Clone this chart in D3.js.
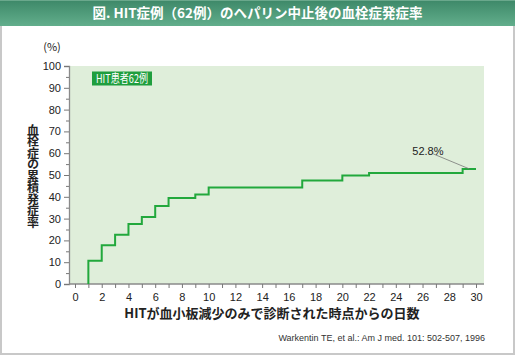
<!DOCTYPE html>
<html><head><meta charset="utf-8">
<script src="https://cdn.jsdelivr.net/npm/d3@7"></script>
<style>body{margin:0;background:#fff;}svg{display:block;}</style>
</head><body>
<script>
const title = "図. HIT症例（62例）のヘパリン中止後の血栓症発症率";
const stepDays = [1, 2, 3, 4, 5, 6, 7, 9, 10, 17, 20, 22, 29];
const cumRate = [10.7, 17.8, 22.6, 27.5, 30.7, 35.8, 39.4, 41.1, 44.3, 47.5, 49.8, 50.9, 52.8];
const endDay = 30;
const xTicks = [0,2,4,6,8,10,12,14,16,18,20,22,24,26,28,30];
const yTicks = [0,10,20,30,40,50,60,70,80,90,100];
const legendLabel = "HIT患者62例";
const annotation = "52.8%";
const yTitle = "血栓症の累積発症率";
const xTitle = "HITが血小板減少のみで診断された時点からの日数";
const unitLabel = "(%)";
const citation = "Warkentin TE, et al.: Am J med. 101: 502-507, 1996";

const W = 515, H = 355;
const font = "'Liberation Sans','Noto Sans CJK JP',sans-serif";
const jfont = "'Noto Sans CJK JP',sans-serif";
const svg = d3.select("body").append("svg").attr("width", W).attr("height", H);

const defs = svg.append("defs");
const g = defs.append("linearGradient").attr("id","tg").attr("x1",0).attr("y1",0).attr("x2",0).attr("y2",1);
g.append("stop").attr("offset","0%").attr("stop-color","#3d8868");
g.append("stop").attr("offset","100%").attr("stop-color","#62ae8c");

// border
svg.append("rect").attr("x",1).attr("y",1).attr("width",W-2).attr("height",H-2).attr("fill","#fff").attr("stroke","#c8c8c8").attr("stroke-width",2);
// title band
svg.append("rect").attr("x",0).attr("y",0).attr("width",W).attr("height",26).attr("fill","url(#tg)");
svg.append("rect").attr("x",0).attr("y",0).attr("width",W).attr("height",1).attr("fill","#6aa88c");
svg.append("text").attr("x",W/2).attr("y",18).attr("text-anchor","middle").attr("fill","#fff")
  .attr("font-family",jfont).attr("font-weight","bold").attr("font-size",13.5).text(title);

const x = d3.scaleLinear().domain([0,30]).range([75,476]);
const y = d3.scaleLinear().domain([0,100]).range([284,66]);
const plotL = 69, plotR = 484;

svg.append("rect").attr("x",plotL).attr("y",y(100)).attr("width",plotR-plotL).attr("height",y(0)-y(100)).attr("fill","#dfeeda");

// y axis
svg.append("g").attr("transform",`translate(${plotL},0)`)
  .call(d3.axisLeft(y).tickValues(yTicks).tickSize(5).tickPadding(3));
svg.append("g").attr("transform",`translate(${plotL},0)`)
  .call(d3.axisLeft(y).tickValues(d3.range(5,100,5).filter(v=>v%10)).tickSize(3).tickFormat(""))
  .call(a=>a.select(".domain").remove());
// x axis
const xAxis = svg.append("g").attr("transform",`translate(0,${y(0)})`)
  .call(d3.axisBottom(x).tickValues(xTicks).tickSize(4).tickPadding(5));
svg.append("g").attr("transform",`translate(0,${y(0)})`)
  .call(d3.axisBottom(x).tickValues(d3.range(1,30,2)).tickSize(4).tickFormat(""))
  .call(a=>a.select(".domain").remove());
xAxis.select(".domain").attr("d",`M${plotL},0H${plotR}`);
svg.selectAll(".domain").attr("stroke","#8a8a8a").attr("stroke-width",1.3);
svg.selectAll(".tick line").attr("stroke","#777");
svg.selectAll(".tick text").attr("font-family",font).attr("font-size",11).attr("fill","#222");

// step line
const pts = [[stepDays[0],0]].concat(stepDays.map((d,i)=>[d,cumRate[i]])).concat([[endDay,cumRate[cumRate.length-1]]]);
svg.append("path").datum(pts).attr("fill","none").attr("stroke","#22a83c").attr("stroke-width",2)
  .attr("d", d3.line().x(d=>x(d[0])).y(d=>y(d[1])).curve(d3.curveStepAfter));

// annotation
const last = cumRate[cumRate.length-1];
svg.append("line").attr("x1",x(26.8)).attr("y1",y(last)-15).attr("x2",x(29.5)).attr("y2",y(last))
  .attr("stroke","#777").attr("stroke-width",0.8);
svg.append("text").attr("x",x(26.4)).attr("y",y(last)-14).attr("text-anchor","middle")
  .attr("font-family",font).attr("font-size",11).attr("fill","#222").text(annotation);

// legend
svg.append("rect").attr("x",92).attr("y",71.5).attr("width",60).attr("height",14).attr("fill","#1f9e3e");
svg.append("text").attr("x",96).attr("y",83.2).attr("fill","#fff")
  .attr("font-family",jfont).attr("font-size",12).attr("textLength",52).attr("lengthAdjust","spacingAndGlyphs").text(legendLabel);

// labels
svg.append("text").attr("x",52).attr("y",51).attr("text-anchor","middle").attr("font-family",jfont)
  .attr("font-size",11).attr("fill","#222").text(unitLabel);
svg.append("text").attr("font-family",jfont).attr("font-size",12).attr("font-weight","bold").attr("fill","#222")
  .attr("text-anchor","middle").attr("x",33).attr("y",176)
  .attr("writing-mode","vertical-rl").attr("letter-spacing",-0.5).text(yTitle);
svg.append("text").attr("x",272).attr("y",318).attr("text-anchor","middle").attr("font-family",jfont)
  .attr("font-size",13).attr("font-weight","bold").attr("fill","#222").text(xTitle);
svg.append("text").attr("x",485).attr("y",341).attr("text-anchor","end").attr("font-family",font)
  .attr("font-size",9).attr("fill","#333").text(citation);
</script>
</body></html>
